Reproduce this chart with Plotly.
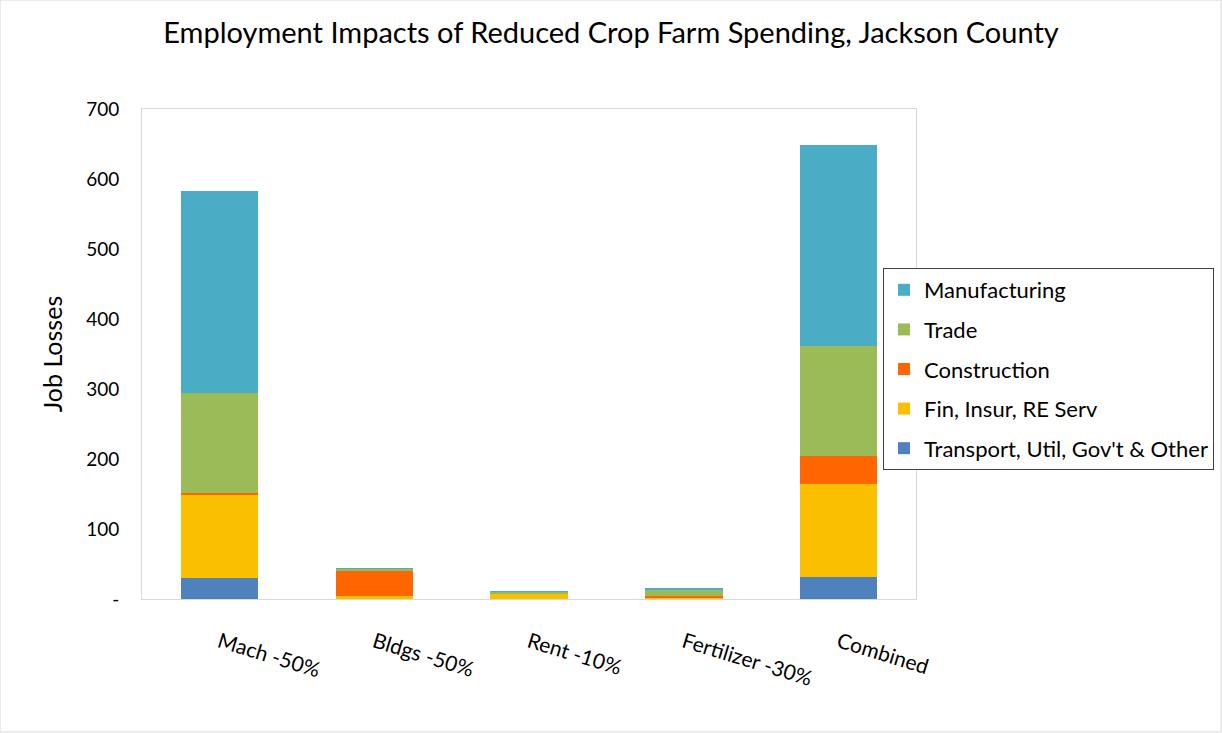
import plotly.graph_objects as go

categories = ["Mach -50%", "Bldgs -50%", "Rent -10%", "Fertilizer -30%", "Combined"]
transport = [30, 0.5, 0.5, 0.5, 32]
fin = [118, 4, 7, 2, 132]
construction = [3, 36, 0.3, 1.5, 40]
trade = [143, 2.5, 2.5, 10, 157]
manufacturing = [289, 0.5, 1, 1, 288]

series = [
    ("Transport, Util, Gov't & Other", transport, "#4f81bd"),
    ("Fin, Insur, RE Serv", fin, "#fac000"),
    ("Construction", construction, "#ff6600"),
    ("Trade", trade, "#9bbb59"),
    ("Manufacturing", manufacturing, "#4bacc6"),
]

yticks = [0, 100, 200, 300, 400, 500, 600, 700]
yticktext = ["-", "100", "200", "300", "400", "500", "600", "700"]

fig = go.Figure()
n = len(series)
for i, (name, vals, col) in enumerate(series):
    fig.add_trace(go.Bar(x=categories, y=vals, name=name, legendgroup=f"g{i}",
                         legendrank=1000 + (n - i),
                         marker=dict(color=col, line=dict(width=0))))

font_family = "Lato, Open Sans, sans-serif"
fig.update_layout(
    barmode="stack",
    bargap=0.5,
    width=1222, height=733,
    margin=dict(l=142, r=306, t=109, b=134, autoexpand=False),
    paper_bgcolor="white", plot_bgcolor="white",
    font=dict(family=font_family, color="#000000"),
    title=dict(text="Employment Impacts of Reduced Crop Farm Spending, Jackson County",
               x=0.5, xanchor="center", y=1 - 33 / 733, yanchor="middle",
               font=dict(size=29, family=font_family, color="#000")),
    legend=dict(x=(883 - 142) / 774, y=(599 - 268) / 490, xanchor="left", yanchor="top",
                traceorder="grouped", bordercolor="#404040", borderwidth=1,
                bgcolor="white", font=dict(size=22, family=font_family),
                tracegroupgap=8, itemwidth=30),
    showlegend=True,
)
fig.update_yaxes(range=[0, 700], tickvals=yticks, ticktext=yticktext,
                 showgrid=False, zeroline=False, showline=True, linecolor="#d9d9d9",
                 mirror=True, ticks="", tickfont=dict(size=19, family=font_family),
                 ticklabelstandoff=18,
                 title=dict(text="Job Losses", font=dict(size=25, family=font_family), standoff=16))
fig.update_xaxes(showgrid=False, showline=True, linecolor="#d9d9d9", mirror=True, ticks="",
                 tickangle=17, tickfont=dict(size=21, family=font_family),
                 ticklabelstandoff=22)
fig.add_shape(type="rect", xref="paper", yref="paper", x0=-142 / 774, x1=(1221 - 142) / 774,
              y0=-133 / 490, y1=(599 - 0) / 490, line=dict(color="#d9d9d9", width=1))

fig.write_html("out.html")
